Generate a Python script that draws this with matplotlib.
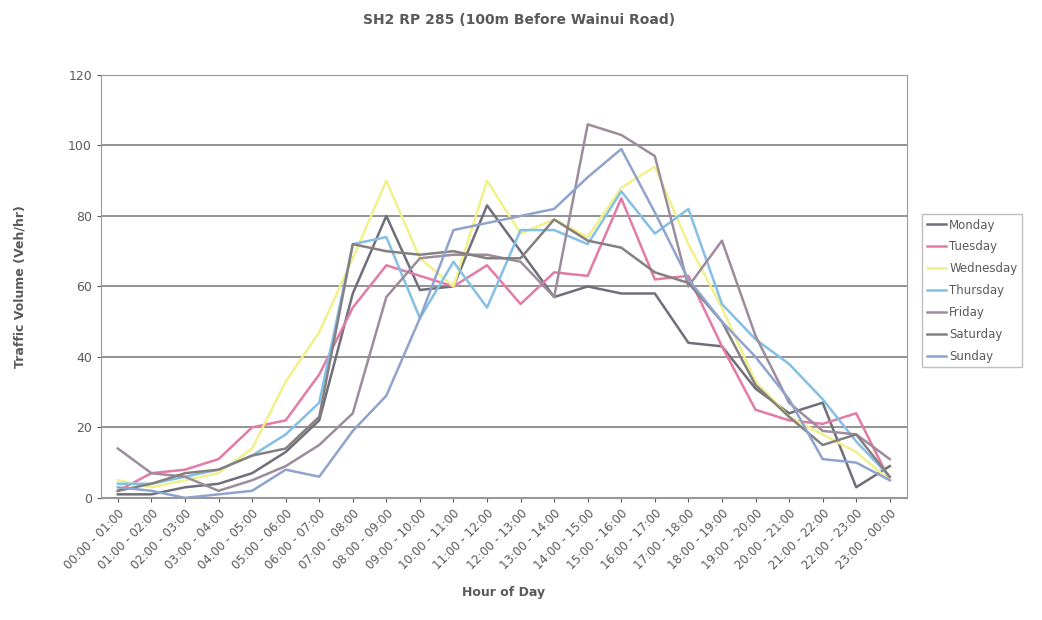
import numpy as np
import matplotlib as mpl
mpl.use('agg')
import matplotlib.pyplot as plt

# hourly traffic volumes (veh/hr)
hours = ["00:00 - 01:00", "01:00 - 02:00", "02:00 - 03:00", "03:00 - 04:00",
         "04:00 - 05:00", "05:00 - 06:00", "06:00 - 07:00", "07:00 - 08:00",
         "08:00 - 09:00", "09:00 - 10:00", "10:00 - 11:00", "11:00 - 12:00",
         "12:00 - 13:00", "13:00 - 14:00", "14:00 - 15:00", "15:00 - 16:00",
         "16:00 - 17:00", "17:00 - 18:00", "18:00 - 19:00", "19:00 - 20:00",
         "20:00 - 21:00", "21:00 - 22:00", "22:00 - 23:00", "23:00 - 00:00"]

monday    = [1, 1, 3, 4, 7, 13, 22, 58, 80, 59, 60, 83, 70, 57, 60, 58, 58, 44, 43, 31, 24, 27, 3, 9]
tuesday   = [2, 7, 8, 11, 20, 22, 35, 54, 66, 63, 60, 66, 55, 64, 63, 85, 62, 63, 43, 25, 22, 21, 24, 5]
wednesday = [5, 3, 5, 7, 14, 33, 47, 68, 90, 68, 60, 90, 75, 79, 74, 88, 94, 72, 54, 33, 23, 18, 13, 5]
thursday  = [4, 4, 6, 8, 12, 18, 27, 72, 74, 51, 67, 54, 76, 76, 72, 87, 75, 82, 55, 45, 38, 28, 16, 6]
friday    = [14, 7, 6, 2, 5, 9, 15, 24, 57, 68, 69, 69, 67, 57, 106, 103, 97, 60, 73, 46, 27, 19, 18, 11]
saturday  = [2, 4, 7, 8, 12, 14, 23, 72, 70, 69, 70, 68, 68, 79, 73, 71, 64, 61, 50, 32, 23, 15, 18, 6]
sunday    = [3, 2, 0, 1, 2, 8, 6, 19, 29, 51, 76, 78, 80, 82, 91, 99, 81, 62, 50, 40, 28, 11, 10, 5]

days = ["Monday", "Tuesday", "Wednesday", "Thursday", "Friday", "Saturday", "Sunday"]
series = [monday, tuesday, wednesday, thursday, friday, saturday, sunday]
colors = ['#6f6f7a', '#e27ba6', '#f2f08a', '#84bfe6', '#9d8c9c', '#857f80', '#8fa4cc']

txt = '#5a5a5a'

fig = plt.figure(figsize=(10.42, 6.2), dpi=100)
ax = fig.add_axes([0.097, 0.197, 0.773, 0.682])

x = np.arange(len(hours))
for name, vals, c in zip(days, series, colors):
    ax.plot(x, vals, color=c, lw=1.8, label=name)

ax.set_xlim(-0.5, len(hours) - 0.5)
ax.set_ylim(0, 120)
ax.set_yticks(np.arange(0, 121, 20))
ax.yaxis.grid(True, color='#8a8a8a', lw=1.3)
ax.set_axisbelow(True)
for s in ax.spines.values():
    s.set_color('#9a9a9a')
ax.tick_params(axis='both', colors=txt, labelsize=9, length=3)
ax.set_xticks(x)
ax.set_xticklabels(hours, rotation=45, ha='right', rotation_mode='anchor', color=txt, fontsize=8.5)

ax.set_xlabel('Hour of Day', color=txt, fontsize=9, fontweight='bold', labelpad=10)
ax.set_ylabel('Traffic Volume (Veh/hr)', color=txt, fontsize=9, fontweight='bold', labelpad=30)
fig.text(0.498, 0.968, 'SH2 RP 285 (100m Before Wainui Road)', ha='center', va='center',
         color=txt, fontsize=10, fontweight='bold')

leg = ax.legend(loc='center left', bbox_to_anchor=(1.012, 0.49), frameon=True, fontsize=8.5,
                handlelength=1.6, handletextpad=0.3, labelspacing=0.75, borderpad=0.4,
                fancybox=False, edgecolor='#b0b0b0', labelcolor=txt)

plt.savefig('out.png', dpi=100)
